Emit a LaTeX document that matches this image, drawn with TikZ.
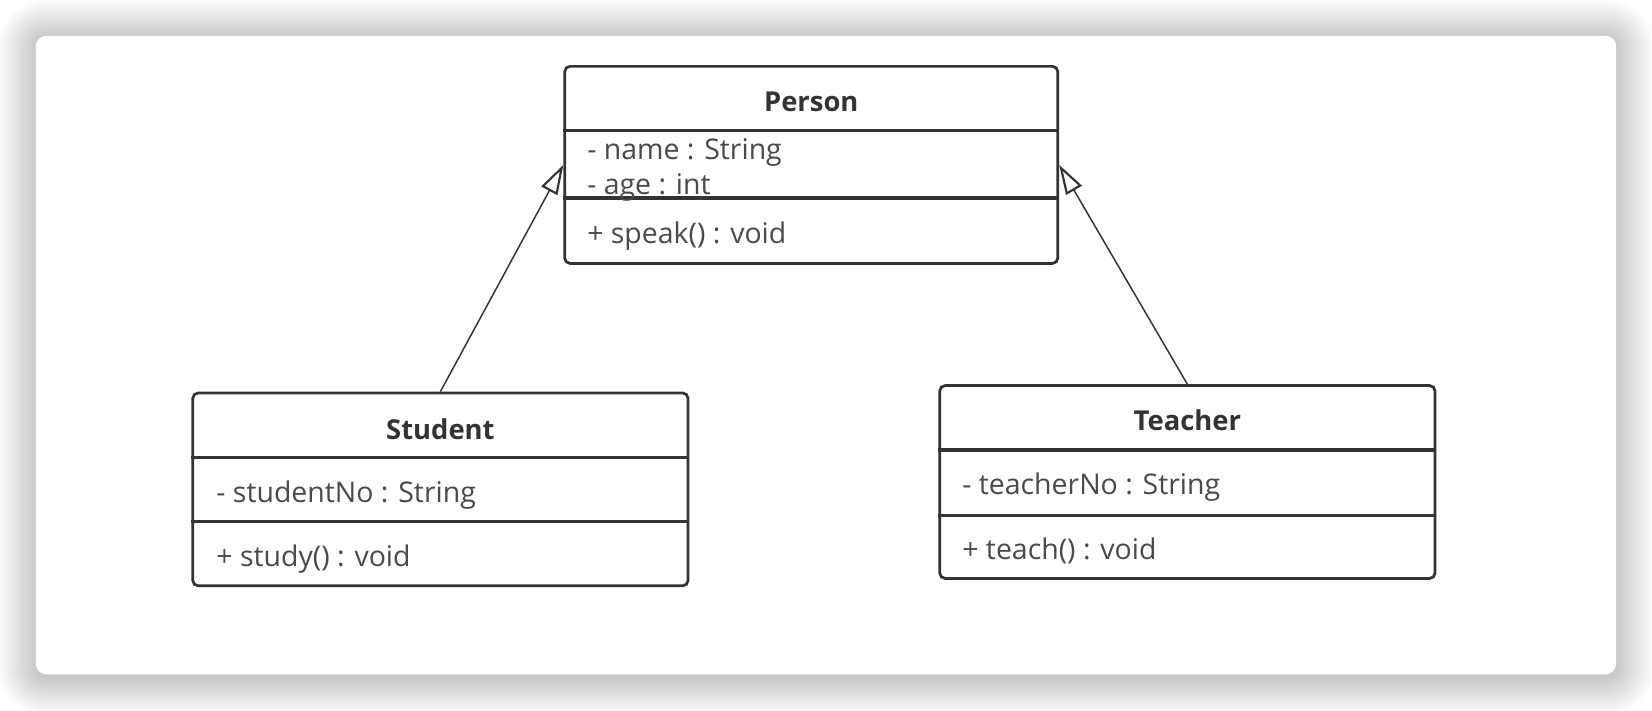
\documentclass[tikz,border=0pt]{standalone}
\usepackage{fontspec}
\setmainfont{Open Sans}
\usetikzlibrary{arrows.meta}
\definecolor{boxline}{HTML}{333333}
\definecolor{titletext}{HTML}{333333}
\definecolor{attrtext}{HTML}{4A4A4A}
\begin{document}
\begin{tikzpicture}[x=0.5pt,y=-0.5pt,
  classbox/.style={draw=boxline,line width=1.3pt,rounded corners=2.5pt,fill=white,inner sep=0pt,minimum width=235pt},
  divider/.style={draw=boxline,line width=1.6pt},
  title/.style={font=\bfseries\fontsize{13}{16}\selectfont,text=titletext,inner sep=0pt},
  attr/.style={font=\fontsize{13.5}{16}\selectfont,text=attrtext,anchor=west,inner sep=0pt},
  inh/.style={draw=boxline,line width=0.7pt,-{Triangle[open,length=14pt,width=8.5pt,line width=1pt,fill=white]}}]
\useasboundingbox (0,0) rectangle (1568,674);
\fill[white] (0,0) rectangle (1568,674);
% card shadow
\foreach \i in {1,...,18}{
  \fill[black,opacity=0.011,rounded corners={5pt+\i*1pt}] (34-\i*2,36-\i*2) rectangle (1534+\i*2,643+\i*2);
}
\fill[white,rounded corners=5pt] (34,34) rectangle (1534,640);

% Person
\node[classbox,minimum width=234pt,minimum height=93.5pt] (person) at (770,156.5) {};
\draw[divider] (person.west |- 0,124) -- (person.east |- 0,124);
\draw[divider] (person.west |- 0,188) -- (person.east |- 0,188);
\node[title] (ptitle) at (770,97) {Person};
\node[attr] (pa1) at (557,145) {- name : String};
\node[attr] (pa2) at (557,178) {- age : int};
\node[attr] (pm1) at (557,224) {+ speak() : void};

% Student
\node[classbox,minimum height=91.5pt] (student) at (418,464.5) {};
\draw[divider] (student.west |- 0,434) -- (student.east |- 0,434);
\draw[divider] (student.west |- 0,495) -- (student.east |- 0,495);
\node[title] (stitle) at (418,407) {Student};
\node[attr] (sa1) at (205,470) {- studentNo : String};
\node[attr] (sm1) at (205,531) {+ study() : void};

% Teacher
\node[classbox,minimum height=91.5pt] (teacher) at (1127,457.5) {};
\draw[divider] (teacher.west |- 0,427) -- (teacher.east |- 0,427);
\draw[divider] (teacher.west |- 0,489) -- (teacher.east |- 0,489);
\node[title] (ttitle) at (1127,399) {Teacher};
\node[attr] (ta1) at (913,462) {- teacherNo : String};
\node[attr] (tm1) at (913,523) {+ teach() : void};

% inheritance
\draw[inh] (student.north) -- (person.west);
\draw[inh] (teacher.north) -- (person.east);
\end{tikzpicture}
\end{document}
